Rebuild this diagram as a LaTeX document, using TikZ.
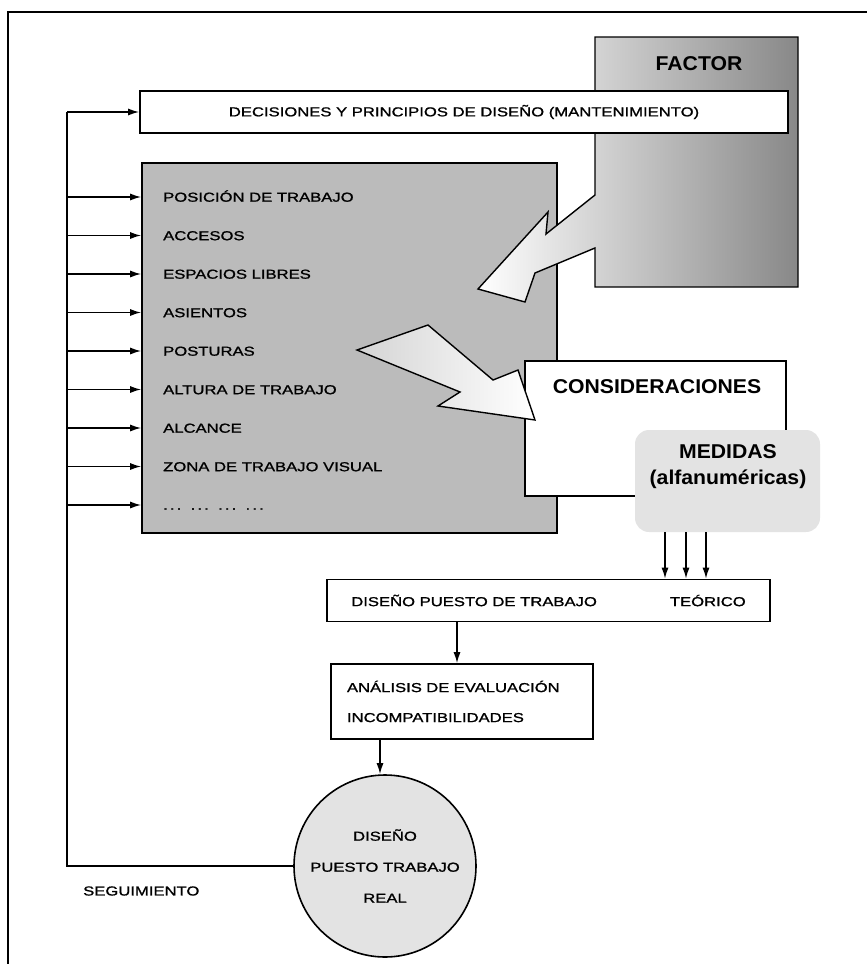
\documentclass[tikz,border=0pt]{standalone}
\usepackage{fontspec}
\setmainfont{Liberation Sans}
\newfontfamily\diagfont{Liberation Sans}[FakeStretch=1.28,FakeBold=1.2]
\newfontfamily\headfont{Liberation Sans}[FakeStretch=1.06]
\usepackage{tikz}
\usetikzlibrary{arrows.meta,positioning,calc}
\definecolor{AreaGrey}{HTML}{BBBBBB}
\definecolor{Pale}{HTML}{E3E3E3}
\definecolor{FactorDark}{HTML}{888888}
\definecolor{ArrowGrey}{HTML}{D4D4D4}

\begin{document}
\begin{tikzpicture}[x=1pt,y=-1pt,
  every node/.style={font=\diagfont\fontsize{13}{16}\selectfont,inner sep=0pt},
  box/.style={draw,line width=1.6pt,fill=white},
  head/.style={font=\headfont\bfseries\fontsize{20}{26}\selectfont},
  arr/.style={-{Latex[length=11pt,width=7pt]},line width=1.5pt},
  blockarrow/.style={draw,line width=1.4pt,line join=miter}
]
\useasboundingbox (0,0) rectangle (867,964);
\draw[line width=1.3pt] (8,964) -- (8,12) -- (867,12);

\node[box,fill=AreaGrey,minimum width=415pt,minimum height=370pt] (areas) at (349.5,348) {};
\foreach \txt [count=\i] in {POSICIÓN DE TRABAJO,ACCESOS,ESPACIOS LIBRES,ASIENTOS,POSTURAS,ALTURA DE TRABAJO,ALCANCE,ZONA DE TRABAJO VISUAL,{.\,.\,.\ \ .\,.\,.\ \ .\,.\,.\ \ .\,.\,.}}{
  \coordinate (r\i) at (163,{158.5+38.5*\i});
  \node[anchor=base west] (it\i) at ($(r\i)+(0,4.7)$) {\txt};
}

\draw[blockarrow,left color=white,right color=FactorDark] (595,37) -- (798,37) -- (798,287) -- (595,287) -- (595,248) -- (535,273) -- (525,302) -- (478,289) -- (548,212) -- (546,234) -- (595,195) -- cycle;
\node[head] (factor) at (699,64) {FACTOR};

\node[box,minimum width=648pt,minimum height=42pt] (dec) at (464,112) {DECISIONES Y PRINCIPIOS DE DISEÑO (MANTENIMIENTO)};

\node[box,minimum width=261pt,minimum height=135pt] (cons) at (655.5,428.5) {};
\node[head] (consText) at (657,387) {CONSIDERACIONES};
\draw[blockarrow,left color=ArrowGrey,right color=white] (357,350) -- (428,325) -- (493,380) -- (518,370) -- (535,420) -- (438,406) -- (460,392) -- cycle;

\node[fill=Pale,rounded corners=14pt,minimum width=185pt,minimum height=102pt] (med) at (727.5,481) {};
\node[head,align=center] (medText) at (728,467) {MEDIDAS\\(alfanuméricas)};

\node[box,minimum width=443pt,minimum height=42pt] (teo) at (548.5,600.5) {DISEÑO PUESTO DE TRABAJO\hspace{73pt}TEÓRICO};
\node[box,minimum width=262pt,minimum height=75pt,text width=230pt,align=left,font=\diagfont\fontsize{13}{30}\selectfont] (anal) at (462,701.5) {ANÁLISIS DE EVALUACIÓN\\INCOMPATIBILIDADES};
\node[draw,circle,line width=1.6pt,fill=Pale,minimum size=182pt,align=center,font=\diagfont\fontsize{13}{31}\selectfont] (real) at (385,866) {DISEÑO\\PUESTO TRABAJO\\REAL};
\node[anchor=west] (seg) at (83,891) {SEGUIMIENTO};

\foreach \dx in {-62.5,-41.5,-21.5}
  \draw[arr] ([xshift=\dx pt]med.south) -- ([xshift=\dx pt]med.south |- teo.north);
\draw[arr] ([xshift=-5pt]anal.north |- teo.south) -- ([xshift=-5pt]anal.north);
\draw[arr] ([xshift=-5pt]real.north |- anal.south) -- ([xshift=-5pt]real.north);

\coordinate (fbtop) at (67,112);
\coordinate (fbbot) at (67,866);
\draw[line width=1.5pt] (real.west) -- (fbbot) -- (fbtop);
\draw[arr] (fbtop) -- (dec.west);
\foreach \i in {1,...,9}
  \draw[arr] (fbtop |- r\i) -- (areas.west |- r\i);
\end{tikzpicture}
\end{document}
